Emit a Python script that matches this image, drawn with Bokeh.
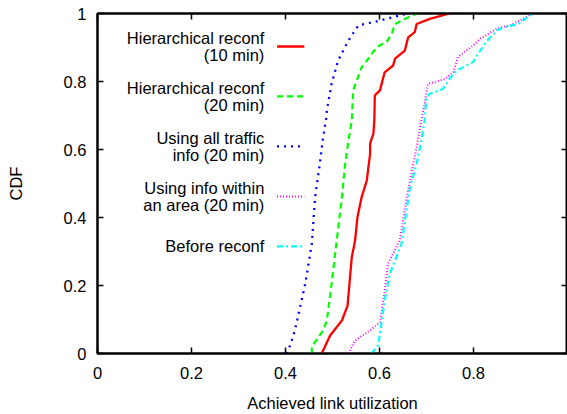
from bokeh.plotting import figure
from bokeh.models import LinearAxis, FixedTicker, Range1d
from bokeh.core.properties import value
from bokeh.embed import file_html
from bokeh.resources import INLINE

# ---- data ----
red_x = [0.477, 0.495, 0.52, 0.532, 0.541, 0.548, 0.553, 0.562, 0.573, 0.58, 0.58, 0.587, 0.589, 0.59,
         0.601, 0.611, 0.629, 0.633, 0.654, 0.661, 0.675, 0.679, 0.707, 0.749]
red_y = [0, 0.053, 0.097, 0.14, 0.283, 0.332, 0.40, 0.46, 0.509, 0.588, 0.617, 0.647, 0.685, 0.759,
         0.774, 0.827, 0.847, 0.867, 0.891, 0.930, 0.945, 0.969, 0.984, 1.0]

green_x = [0.456, 0.456, 0.48, 0.488, 0.498, 0.509, 0.52, 0.527, 0.534, 0.541, 0.544, 0.562, 0.576,
           0.594, 0.615, 0.626, 0.633, 0.654, 0.679]
green_y = [0, 0.02, 0.068, 0.097, 0.205, 0.332, 0.46, 0.558, 0.626, 0.685, 0.774, 0.842, 0.867,
           0.901, 0.916, 0.940, 0.969, 0.984, 1.0]

blue_x = [0.401, 0.41, 0.42, 0.431, 0.442, 0.449, 0.456, 0.463, 0.473, 0.48, 0.486, 0.488, 0.498,
          0.512, 0.534, 0.555, 0.601, 0.658]
blue_y = [0, 0.024, 0.068, 0.136, 0.205, 0.264, 0.323, 0.46, 0.558, 0.636, 0.685, 0.715, 0.793,
          0.862, 0.921, 0.965, 0.979, 1.0]

magenta_x = [0.534, 0.548, 0.58, 0.601, 0.611, 0.618, 0.629, 0.643, 0.658, 0.672, 0.679, 0.689,
             0.696, 0.703, 0.739, 0.757, 0.767, 0.803, 0.813, 0.849, 0.877, 0.898, 0.926]
magenta_y = [0, 0.038, 0.068, 0.092, 0.185, 0.264, 0.294, 0.332, 0.46, 0.558, 0.607, 0.685,
             0.735, 0.793, 0.807, 0.827, 0.872, 0.910, 0.925, 0.955, 0.965, 0.979, 1.0]

cyan_x = [0.583, 0.597, 0.604, 0.611, 0.622, 0.633, 0.647, 0.665, 0.679, 0.689, 0.696, 0.70,
          0.707, 0.735, 0.749, 0.764, 0.799, 0.81, 0.827, 0.849, 0.866, 0.895, 0.926]
cyan_y = [0, 0.024, 0.088, 0.156, 0.235, 0.273, 0.323, 0.489, 0.558, 0.626, 0.685, 0.754,
          0.764, 0.778, 0.807, 0.832, 0.857, 0.882, 0.916, 0.950, 0.960, 0.969, 1.0]

series_labels = ["Hierarchical reconf\n(10 min)", "Hierarchical reconf\n(20 min)",
                 "Using all traffic\ninfo (20 min)", "Using info within\nan area (20 min)",
                 "Before reconf"]
x_ticks = [0, 0.2, 0.4, 0.6, 0.8]
y_ticks = [0, 0.2, 0.4, 0.6, 0.8, 1]

# ---- styles ----
FONT = "Liberation Sans"
FS = "16.5px"
styles = [
    dict(color="#ff0000", dash="solid", width=2.3),
    dict(color="#00ff00", dash="6 4", width=2.2),
    dict(color="#0000ff", dash="2 5", width=2.3),
    dict(color="#ff00ff", dash="1 2", width=2),
    dict(color="#00ffff", dash="6 3 2 3", width=2.2),
]
xs = [red_x, green_x, blue_x, magenta_x, cyan_x]
ys = [red_y, green_y, blue_y, magenta_y, cyan_y]

p = figure(width=567, height=414, x_range=Range1d(0, 1), y_range=Range1d(0, 1),
           output_backend="svg", toolbar_location=None,
           min_border_left=97, min_border_right=0, min_border_top=13, min_border_bottom=61)
p.grid.visible = False
p.outline_line_color = "black"
p.outline_line_width = 2
p.background_fill_color = "white"
p.border_fill_color = "white"

for ax in (p.xaxis[0], p.yaxis[0]):
    ax.major_tick_in = 6
    ax.major_tick_out = 0
    ax.minor_tick_line_color = None
    ax.axis_line_width = 2
    ax.major_tick_line_width = 1.5
    ax.major_label_text_font = FONT
    ax.major_label_text_font_size = FS
    ax.major_label_text_color = "black"
    ax.axis_label_text_font = FONT
    ax.axis_label_text_font_size = FS
    ax.axis_label_text_font_style = "normal"
    ax.axis_label_text_color = "black"

p.xaxis[0].ticker = FixedTicker(ticks=x_ticks)
p.yaxis[0].ticker = FixedTicker(ticks=y_ticks)
p.xaxis[0].axis_label = "Achieved link utilization"
p.yaxis[0].axis_label = "CDF"
p.xaxis[0].major_label_standoff = 13
p.xaxis[0].axis_label_standoff = 12
p.yaxis[0].major_label_standoff = 11
p.yaxis[0].axis_label_standoff = 36

# mirrored tick marks on top and right (no labels)
for loc, tk in (("above", x_ticks), ("right", y_ticks)):
    a = LinearAxis(ticker=FixedTicker(ticks=tk),
                   major_label_overrides={t: "" for t in tk},
                   major_label_text_font_size="1px",
                   major_label_standoff=0, major_tick_in=6, major_tick_out=0,
                   minor_tick_line_color=None, axis_line_width=2, major_tick_line_width=1.5)
    p.add_layout(a, loc)

for x, y, st in zip(xs, ys, styles):
    p.line(x, y, line_color=st["color"], line_dash=st["dash"], line_width=st["width"])

# ---- legend (text left, sample right) ----
txt_x = 0.355
s_x0, s_x1 = 0.382, 0.44
top_y = 0.903
step = 0.147
line_gap = 0.05
lx, ly, lt = [], [], []
for i, (lab, st) in enumerate(zip(series_labels, styles)):
    yc = top_y - i * step
    lines = lab.split("\n")
    n = len(lines)
    for j, t in enumerate(lines):
        lx.append(txt_x)
        ly.append(yc + (n - 1) * line_gap / 2 - j * line_gap)
        lt.append(t)
    p.line([s_x0, s_x1], [yc, yc], line_color=st["color"], line_dash=st["dash"],
           line_width=st["width"])
p.text(lx, ly, text=lt, text_align="right", text_baseline="middle",
       text_font=value(FONT), text_font_size=FS, text_color="black")

open("out.html", "w").write(file_html(p, INLINE))
